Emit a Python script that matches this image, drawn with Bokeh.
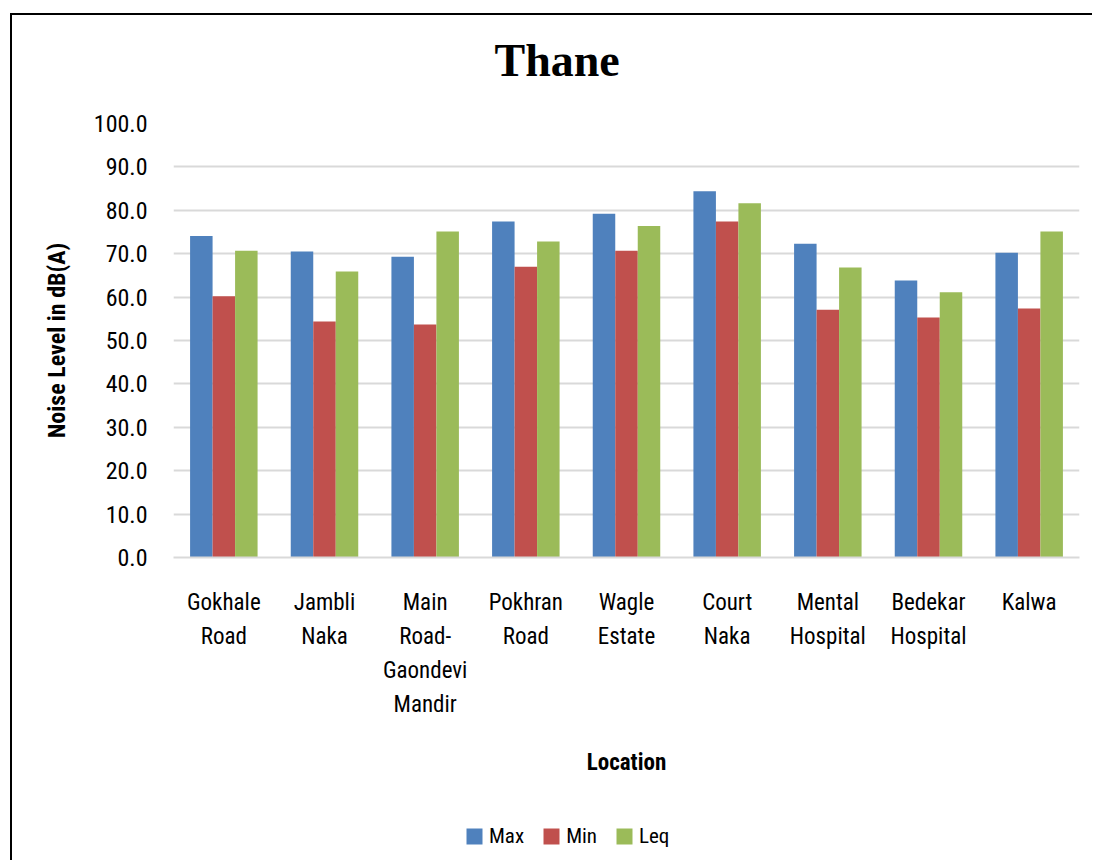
from bokeh.plotting import figure
from bokeh.layouts import column
from bokeh.models import (ColumnDataSource, FactorRange, Range1d, FixedTicker, PrintfTickFormatter,
                          Legend, LegendItem)
from bokeh.transform import dodge
from bokeh.embed import file_html
from bokeh.resources import INLINE

title_text = "Thane"
categories = ["Gokhale\nRoad", "Jambli\nNaka", "Main\nRoad-\nGaondevi\nMandir", "Pokhran\nRoad",
              "Wagle\nEstate", "Court\nNaka", "Mental\nHospital", "Bedekar\nHospital", "Kalwa"]
series = ["Max", "Min", "Leq"]
colors = ["#4F81BD", "#C0504D", "#9BBB59"]
max_vals = [74.1, 70.5, 69.3, 77.4, 79.2, 84.4, 72.3, 63.8, 70.2]
min_vals = [60.2, 54.4, 53.7, 67.0, 70.7, 77.4, 57.1, 55.3, 57.4]
leq_vals = [70.7, 65.9, 75.1, 72.8, 76.4, 81.6, 66.8, 61.1, 75.1]
y_ticks = [0, 10, 20, 30, 40, 50, 60, 70, 80, 90, 100]

NARROW = "Roboto Condensed"
W = 1080


def strip(height, title=None):
    f = figure(width=W, height=height, x_range=Range1d(0, 1), y_range=Range1d(0, 1), title=title,
               output_backend="svg", toolbar_location=None, min_border=0)
    f.outline_line_color = None
    f.axis.visible = False
    f.grid.visible = False
    f.background_fill_color = "white"
    f.border_fill_color = "white"
    return f


# header strip carrying the chart title
hdr = strip(95, title_text)
hdr.title.align = "left"
hdr.title.offset = 321
hdr.title.text_font = "Liberation Serif"
hdr.title.text_font_style = "bold"
hdr.title.text_font_size = "46px"
hdr.title.text_color = "black"
hdr.title.standoff = 34

# main chart
src = ColumnDataSource(dict(cat=categories, mx=max_vals, mn=min_vals, lq=leq_vals))
p = figure(x_range=FactorRange(*categories, range_padding=0), y_range=Range1d(0, 100), title=None,
           width=W, height=697, output_backend="svg", toolbar_location=None,
           min_border_left=161, min_border_right=13, min_border_top=13, min_border_bottom=250)
p.outline_line_color = None
p.background_fill_color = "white"
p.border_fill_color = "white"

bw = 0.2235
for col, off, c in zip(["mx", "mn", "lq"], [-bw, 0, bw], colors):
    p.vbar(x=dodge("cat", off, range=p.x_range), top=col, width=bw, source=src,
           fill_color=c, line_color=None)

p.xgrid.grid_line_color = None
p.ygrid.grid_line_color = "#D9D9D9"
p.ygrid.grid_line_width = 2
p.yaxis.ticker = FixedTicker(ticks=y_ticks)
p.yaxis.formatter = PrintfTickFormatter(format="%.1f")

p.yaxis.axis_line_color = None
p.yaxis.major_tick_line_color = None
p.yaxis.minor_tick_line_color = None
p.yaxis.major_tick_out = 0
p.yaxis.major_label_standoff = 26
p.yaxis.major_label_text_font = NARROW
p.yaxis.major_label_text_font_size = "24px"
p.yaxis.major_label_text_color = "black"
p.yaxis.axis_label = "Noise Level in dB(A)"
p.yaxis.axis_label_text_font = NARROW
p.yaxis.axis_label_text_font_style = "bold"
p.yaxis.axis_label_text_font_size = "24px"
p.yaxis.axis_label_text_color = "black"
p.yaxis.axis_label_standoff = 20

p.xaxis.axis_line_color = "#D9D9D9"
p.xaxis.axis_line_width = 2
p.xaxis.major_tick_line_color = None
p.xaxis.major_tick_out = 0
p.xaxis.major_label_standoff = 31
p.xaxis.major_label_text_font = NARROW
p.xaxis.major_label_text_font_size = "23px"
p.xaxis.major_label_text_color = "black"
p.xaxis.major_label_text_line_height = 1.27
p.xaxis.axis_label = "Location"
p.xaxis.axis_label_text_font = NARROW
p.xaxis.axis_label_text_font_style = "bold"
p.xaxis.axis_label_text_font_size = "23px"
p.xaxis.axis_label_text_color = "black"
p.xaxis.axis_label_standoff = 28

# legend strip
lf = strip(53)
items = []
for name, c in zip(series, colors):
    r = lf.vbar(x=[0], top=[-100], bottom=[-101], width=1, fill_color=c, line_color=None)
    items.append(LegendItem(label=name, renderers=[r]))
legend = Legend(items=items, orientation="horizontal", location=(291, 12),
                glyph_width=20, glyph_height=20, label_standoff=5, spacing=17,
                padding=0, margin=0, border_line_color=None, background_fill_alpha=0,
                label_text_font=NARROW, label_text_font_size="21px", label_text_color="black")
lf.add_layout(legend, "center")

layout = column(hdr, p, lf, spacing=0)
layout.styles = {"border-left": "2px solid black", "border-top": "2px solid black",
                 "margin-left": "10px", "margin-top": "13px"}

open("out.html", "w").write(file_html(layout, INLINE))
